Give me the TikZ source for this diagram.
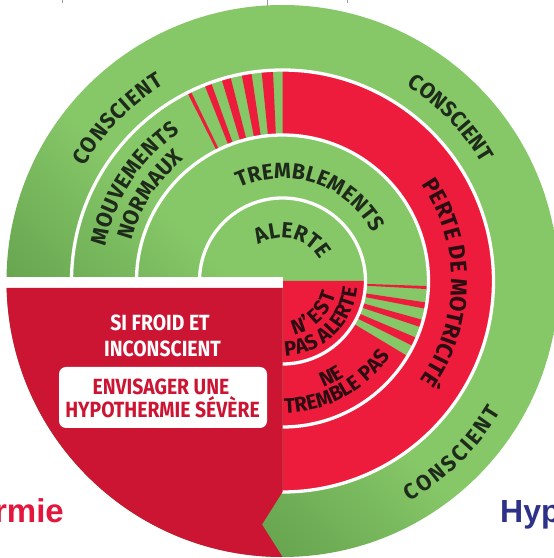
\documentclass[tikz,border=0pt]{standalone}
\usepackage{fontspec}
\usetikzlibrary{decorations.text}
\newfontfamily\dina[FakeStretch=0.97]{Fira Sans}
\newfontfamily\dinb[FakeStretch=0.88]{Fira Sans}
\newfontfamily\bigf{Liberation Sans}
\definecolor{gL}{HTML}{86C768}
\definecolor{gD}{HTML}{5E9B48}
\definecolor{redC}{HTML}{EE1C3C}
\definecolor{darkR}{HTML}{CC1433}
\definecolor{txtG}{HTML}{1E2A1A}
\definecolor{txtR}{HTML}{2A0C12}
\definecolor{wordRed}{HTML}{E3173E}
\definecolor{wordBlue}{HTML}{2E3188}
\definecolor{rulegrey}{HTML}{9A9A9A}
\pgfdeclareverticalshading{greensh}{100bp}{color(0bp)=(gD); color(28bp)=(gD); color(47bp)=(gL); color(100bp)=(gL)}
\newcommand\fG{\dina\bfseries\fontsize{22}{22}\selectfont\color{txtG}}
\newcommand\fP{\dina\bfseries\fontsize{23}{23}\selectfont\color{txtR}}
\newcommand\fR{\dina\bfseries\fontsize{21}{21}\selectfont\color{txtR}}
% text spread over the whole arc
\newcommand\ArcLabel[5]{\path[decorate, decoration={text along path, text align=fit to path, text={|#4|#5}}] (#2:#1) arc[start angle=#2, end angle=#3, radius=#1];}
% text centred on the arc, natural spacing
\newcommand\ArcLabelC[5]{\path[decorate, decoration={text along path, text align=center, text={|#4|#5}}] (#2:#1) arc[start angle=#2, end angle=#3, radius=#1];}
\tikzset{
  boxtxt/.style={font=\dinb\bfseries\fontsize{22}{22}\selectfont, anchor=base, inner sep=0pt},
  whitering/.style={white, line width=3.3pt},
  pagerule/.style={rulegrey, line width=0.9pt}
}
\begin{document}
\begin{tikzpicture}[x=1pt,y=1pt]
\useasboundingbox (0,0) rectangle (554,558);
\clip (0,0) rectangle (554,558);
% page rules (cut-off page elements)
\draw[pagerule] (267,558) -- (267,551.5);
\draw[pagerule] (62,558) -- (62,555);
\draw[pagerule] (347,558) -- (347,555);
\draw[pagerule] (0,278) -- (5,278);
\begin{scope}[shift={(282.5,277)}]
  % green base disc
  \shade[shading=greensh, shading angle=-45] (0,0) circle[radius=276];
  % middle ring: perte de motricite
  \fill[redC] (90:146) arc[start angle=90, end angle=-90, radius=146] -- (-90:211) arc[start angle=-90, end angle=90, radius=211] -- cycle;
  \foreach \a/\b in {92.6/95.7, 98.5/101.2, 104.3/106.8, 109.8/111.7, 115.8/116.8}
    \fill[redC] (\a:146) arc[start angle=\a, end angle=\b, radius=146] -- (\b:211) arc[start angle=\b, end angle=\a, radius=211] -- cycle;
  % inner ring: ne tremble pas
  \foreach \a/\b in {-2/-3.2, -8.5/-11, -15.5/-18.5, -23/-26.5, -31/-90}
    \fill[redC] (\a:83) arc[start angle=\a, end angle=\b, radius=83] -- (\b:146) arc[start angle=\b, end angle=\a, radius=146] -- cycle;
  % inner disc quadrant
  \fill[redC] (0,0) -- (0:83) arc[start angle=0, end angle=-90, radius=83] -- cycle;
  % white rings
  \foreach \r in {83,146,211} \draw[whitering] (0,0) circle[radius=\r];
  % white band
  \fill[white] (-290,4) rectangle (0,-7);
  % dark red panel with notch
  \fill[darkR] (0,-7) -- (0,-211) -- (-20.5,-243.5) -- (0,-276) arc[start angle=270, end angle=181.45, radius=276] -- cycle;
  % arc labels (tops outward, clockwise)
  \ArcLabel{229}{150}{121}{\fG}{CONSCIENT}
  \ArcLabel{231.5}{57.5}{31}{\fG}{CONSCIENT}
  \ArcLabel{180.5}{169}{124.5}{\fG}{MOUVEMENTS}
  \ArcLabel{156}{165}{129}{\fG}{NORMAUX}
  \ArcLabel{102.5}{115}{28}{\fG}{TREMBLEMENTS}
  \ArcLabel{43}{124}{29}{\fG}{ALERTE}
  \ArcLabelC{169}{49.5}{-50.5}{\fP}{PERTE DE MOTRICITÉ}
  % arc labels (tops inward, counterclockwise)
  \ArcLabel{254.5}{-60}{-31}{\fG}{CONSCIENT}
  \ArcLabel{55}{-78}{-14}{\fR}{N’EST}
  \ArcLabel{75}{-88}{-7}{\fR}{PAS ALERTE}
  \ArcLabelC{114}{-83}{-43}{\fR}{NE}
  \ArcLabelC{132}{-100}{-24}{\fR}{TREMBLE PAS}
\end{scope}
% panel texts
\node[boxtxt, text=white] (l1) at (160,227) {SI FROID ET};
\node[boxtxt, text=white] (l2) at (162.5,201.3) {INCONSCIENT};
\fill[white, rounded corners=7pt] (59,130) rectangle (267,191);
\node[boxtxt, text=darkR] (l3) at (161,163.7) {ENVISAGER UNE};
\node[boxtxt, text=darkR] (l4) at (162.5,140.3) {HYPOTHERMIE SÉVÈRE};
% cut-off page words
\node[font=\bigf\bfseries\fontsize{33}{33}\selectfont, text=wordRed, anchor=base east, inner sep=0pt] (w1) at (64,35) {rmie};
\node[font=\bigf\bfseries\fontsize{32}{32}\selectfont, text=wordBlue, anchor=base west, inner sep=0pt] (w2) at (500,35.5) {Hyp};
\end{tikzpicture}
\end{document}
